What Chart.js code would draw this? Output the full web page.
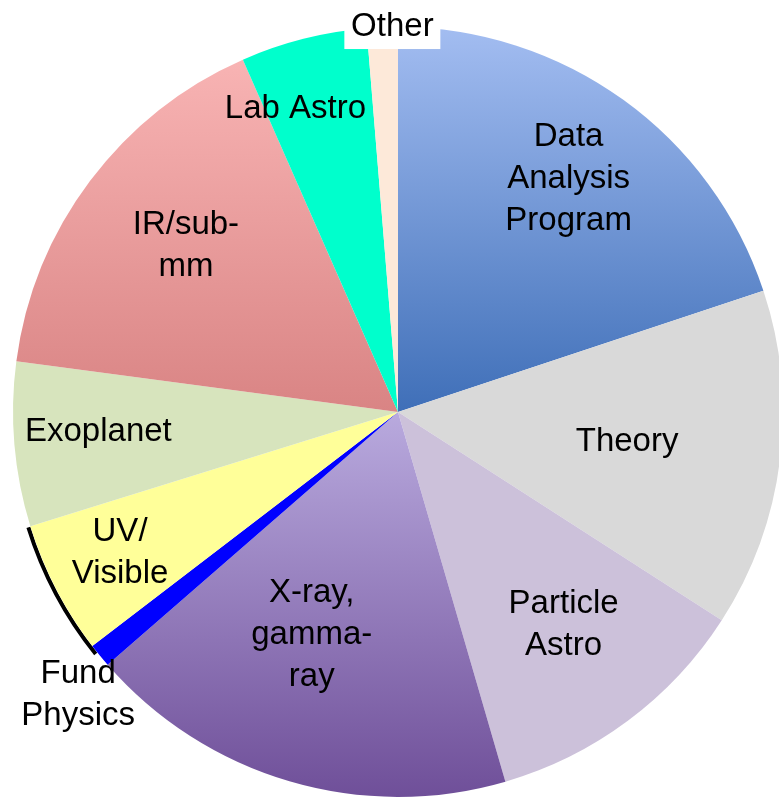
<!DOCTYPE html>
<html>
<head>
<meta charset="utf-8">
<script src="https://cdn.jsdelivr.net/npm/chart.js@4.4.1/dist/chart.umd.min.js"></script>
<style>
  html, body { margin: 0; padding: 0; background: #fff; overflow: hidden; }
  #wrap { position: absolute; left: 0; top: 0; }
</style>
</head>
<body>
<div id="wrap"><canvas id="pieChart" width="796" height="824"></canvas></div>
<script>
// Data Chart (percent of total, clockwise from 12 o'clock)
const categories = ["Data Analysis Program", "Theory", "Particle Astro", "X-ray, gamma-ray",
  "Fund Physics", "UV/Visible", "Exoplanet", "IR/sub-mm", "Lab Astro", "Other"];
const shares = [19.9, 14.2, 11.4, 18.1, 1.0, 5.6, 6.9, 16.3, 5.3, 1.3];

// label text lines as shown on the chart
const labelLines = [
  ["Data", "Analysis", "Program"],
  ["Theory"],
  ["Particle", "Astro"],
  ["X-ray,", "gamma-", "ray"],
  ["Fund", "Physics"],
  ["UV/", "Visible"],
  ["Exoplanet"],
  ["IR/sub-", "mm"],
  ["Lab Astro"],
  ["Other"],
];

// where each label sits: fraction of radius, angle shift (deg) from slice middle
const labelPlace = [
  [0.75, 0.4], [0.60, 0.2], [0.70, -1.2], [0.62, 4.8], [1.11, -2.3],
  [0.81, 0.4], [0.78, 1.0], [0.70, 1.2], [0.83, -4.5], [1.00, 1.5],
];

const flatColors = ["#4a7cc4", "#d9d9d9", "#ccc1da", "#8a6cb0", "#0000ff",
  "#ffff99", "#d7e4bd", "#e89a9a", "#00ffcc", "#fde9d9"];

function sliceColor(context) {
  const chart = context.chart;
  const area = chart.chartArea;
  if (!area) return flatColors[context.dataIndex];
  const cy = (area.top + area.bottom) / 2;
  const r = 385;
  const g = chart.ctx;
  let grad;
  switch (context.dataIndex) {
    case 0:
      grad = g.createLinearGradient(0, cy - r, 0, cy);
      grad.addColorStop(0, "#a3bdf1");
      grad.addColorStop(1, "#3f6fb8");
      return grad;
    case 3:
      grad = g.createLinearGradient(0, cy, 0, cy + r);
      grad.addColorStop(0, "#b9aade");
      grad.addColorStop(1, "#6f4f99");
      return grad;
    case 7:
      grad = g.createLinearGradient(0, cy - r, 0, cy);
      grad.addColorStop(0, "#fbb8b8");
      grad.addColorStop(1, "#d98484");
      return grad;
    default:
      return flatColors[context.dataIndex];
  }
}

// shadow on the lower left rim + text labels
const labelPlugin = {
  id: "sliceLabels",
  beforeDatasetsDraw(chart) {
    const arcs = chart.getDatasetMeta(0).data;
    if (!arcs.length) return;
    const { x, y, outerRadius } = arcs[0];
    const ctx = chart.ctx;
    ctx.save();
    ctx.strokeStyle = "#000";
    ctx.lineWidth = 4;
    ctx.beginPath();
    const a0 = arcs[4].startAngle, a1 = arcs[5].endAngle;
    ctx.arc(x - 2, y + 1, outerRadius, a0 + 0.04, a1);
    ctx.stroke();
    ctx.restore();
  },
  afterDatasetsDraw(chart) {
    const arcs = chart.getDatasetMeta(0).data;
    const ctx = chart.ctx;
    ctx.save();
    ctx.font = "33px 'Liberation Sans', Arial, sans-serif";
    ctx.textAlign = "center";
    ctx.textBaseline = "middle";
    const lineH = 42;
    arcs.forEach((arc, i) => {
      const mid = (arc.startAngle + arc.endAngle) / 2 + labelPlace[i][1] * Math.PI / 180;
      const d = arc.outerRadius * labelPlace[i][0];
      const lx = arc.x + Math.cos(mid) * d;
      const ly = arc.y + Math.sin(mid) * d;
      const lines = labelLines[i];
      const top = ly - (lines.length - 1) * lineH / 2;
      if (i === 9) {
        ctx.fillStyle = "#fff";
        ctx.fillRect(lx - 48, 0, 96, ly + 22);
      }
      ctx.fillStyle = "#000";
      lines.forEach((t, k) => ctx.fillText(t, lx, top + k * lineH));
    });
    ctx.restore();
  },
};

// Config Chart
const config = {
  type: "pie",
  data: {
    labels: categories,
    datasets: [{
      data: shares,
      backgroundColor: sliceColor,
      borderWidth: 0,
      radius: 385,
    }],
  },
  options: {
    responsive: false,
    animation: false,
    layout: { padding: 0 },
    plugins: {
      legend: { display: false },
      tooltip: { enabled: false },
    },
  },
  plugins: [labelPlugin],
};

// Render Chart
const pieChart = new Chart(document.getElementById("pieChart"), config);
</script>
</body>
</html>
